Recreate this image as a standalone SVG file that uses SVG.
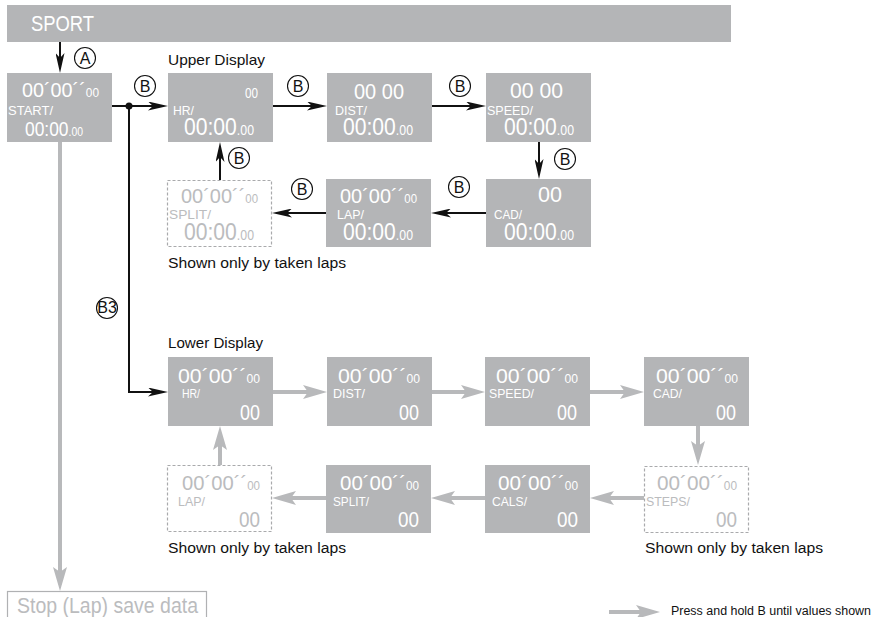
<svg xmlns="http://www.w3.org/2000/svg" width="877" height="617" viewBox="0 0 877 617">
<style>
text{font-family:"Liberation Sans Narrow","Liberation Sans",Arial,sans-serif;}
.box{fill:#b4b5b7;}
.dbox{fill:#fff;stroke:#a9aaac;stroke-width:1.2;stroke-dasharray:3,2;}
.w{fill:#fff;}
.g{fill:#bbbcbe;}
.k{fill:#111;}
.big{font-size:22px;}
.mid{font-size:21px;}
.t{font-size:24px;}
.s{font-size:14px;}
.s12{font-size:12px;}
.sm{font-size:14px;}
.lb{font-size:13px;}
.bl{stroke:#111;stroke-width:2;fill:none;}
.gl{stroke:#b8b9bb;stroke-width:4;fill:none;}
.circ{fill:#fff;stroke:#111;stroke-width:1.1;}
.ct{font-size:16px;fill:#111;text-anchor:middle;}
</style>
<defs>
<marker id="ah" markerUnits="userSpaceOnUse" markerWidth="20" markerHeight="9" refX="14" refY="4.5" orient="auto">
<path d="M0,0 L20,4.5 L0,9 L5,4.5 Z" fill="#111"/>
</marker>
<marker id="gh" markerUnits="userSpaceOnUse" markerWidth="24" markerHeight="14" refX="14" refY="7" orient="auto">
<path d="M0,0 L24,7 L0,14 L5,7 Z" fill="#b8b9bb"/>
</marker>
</defs>

<g id="sport">
<rect x="7" y="5" width="724" height="37" class="box"/>
<text x="31" y="31" class="w" font-size="22" textLength="63" lengthAdjust="spacingAndGlyphs">SPORT</text>
</g>

<text x="168" y="65" class="k" font-size="15" textLength="97" lengthAdjust="spacingAndGlyphs">Upper Display</text>
<text x="168" y="348" class="k" font-size="15" textLength="95" lengthAdjust="spacingAndGlyphs">Lower Display</text>
<text x="168" y="268" class="k" font-size="14" textLength="178" lengthAdjust="spacingAndGlyphs">Shown only by taken laps</text>
<text x="168" y="553" class="k" font-size="14" textLength="178" lengthAdjust="spacingAndGlyphs">Shown only by taken laps</text>
<text x="645" y="553" class="k" font-size="14" textLength="178" lengthAdjust="spacingAndGlyphs">Shown only by taken laps</text>

<!-- START -->
<g id="start">
<rect x="7" y="73" width="105" height="69" class="box"/>
<text x="22" y="97" class="w" font-size="20" textLength="77" lengthAdjust="spacingAndGlyphs">00´00´´<tspan class="s12">00</tspan></text>
<text x="8" y="115" class="w lb" textLength="45" lengthAdjust="spacingAndGlyphs">START/</text>
<text x="25" y="136" class="w" font-size="20" textLength="58" lengthAdjust="spacingAndGlyphs">00:00<tspan class="s12">.00</tspan></text>
</g>

<!-- Upper row 1 -->
<g id="u-hr">
<rect x="168" y="73" width="105" height="69" class="box"/>
<text x="245" y="98" class="w sm" textLength="13" lengthAdjust="spacingAndGlyphs">00</text>
<text x="173" y="115" class="w lb" textLength="21" lengthAdjust="spacingAndGlyphs">HR/</text>
<text x="184" y="135" class="w t" textLength="70" lengthAdjust="spacingAndGlyphs">00:00<tspan class="s">.00</tspan></text>
</g>
<g id="u-dist">
<rect x="327" y="73" width="105" height="69" class="box"/>
<text x="354" y="99" class="w big" textLength="50" lengthAdjust="spacingAndGlyphs">00 00</text>
<text x="335" y="115" class="w lb" textLength="32" lengthAdjust="spacingAndGlyphs">DIST/</text>
<text x="343" y="135" class="w t" textLength="70" lengthAdjust="spacingAndGlyphs">00:00<tspan class="s">.00</tspan></text>
</g>
<g id="u-speed">
<rect x="486" y="73" width="105" height="69" class="box"/>
<text x="510" y="98" class="w big" textLength="53" lengthAdjust="spacingAndGlyphs">00 00</text>
<text x="487" y="115" class="w lb" textLength="46" lengthAdjust="spacingAndGlyphs">SPEED/</text>
<text x="504" y="135" class="w t" textLength="70" lengthAdjust="spacingAndGlyphs">00:00<tspan class="s">.00</tspan></text>
</g>
<!-- Upper row 2 -->
<g id="u-cad">
<rect x="486" y="179" width="105" height="68" class="box"/>
<text x="538" y="202" class="w big" textLength="24" lengthAdjust="spacingAndGlyphs">00</text>
<text x="494" y="219" class="w lb" textLength="28" lengthAdjust="spacingAndGlyphs">CAD/</text>
<text x="504" y="240" class="w t" textLength="70" lengthAdjust="spacingAndGlyphs">00:00<tspan class="s">.00</tspan></text>
</g>
<g id="u-lap">
<rect x="326" y="179" width="105" height="68" class="box"/>
<text x="340" y="203" class="w mid" textLength="77" lengthAdjust="spacingAndGlyphs">00´00´´<tspan class="s12">00</tspan></text>
<text x="337" y="219" class="w lb" textLength="27" lengthAdjust="spacingAndGlyphs">LAP/</text>
<text x="343" y="240" class="w t" textLength="70" lengthAdjust="spacingAndGlyphs">00:00<tspan class="s">.00</tspan></text>
</g>
<g id="u-split">
<rect x="167.5" y="180.5" width="104" height="66" class="dbox"/>
<text x="181" y="203" class="g mid" textLength="77" lengthAdjust="spacingAndGlyphs">00´00´´<tspan class="s12">00</tspan></text>
<text x="169" y="219" class="g lb" textLength="42" lengthAdjust="spacingAndGlyphs">SPLIT/</text>
<text x="184" y="240" class="g t" textLength="70" lengthAdjust="spacingAndGlyphs">00:00<tspan class="s">.00</tspan></text>
</g>

<!-- Lower row 1 -->
<g id="l-hr">
<rect x="168" y="357" width="105" height="69" class="box"/>
<text x="178" y="383" class="w mid" textLength="82" lengthAdjust="spacingAndGlyphs">00´00´´<tspan class="s12">00</tspan></text>
<text x="182" y="398" class="w lb" textLength="18" lengthAdjust="spacingAndGlyphs">HR/</text>
<text x="240" y="420" class="w big" textLength="20" lengthAdjust="spacingAndGlyphs">00</text>
</g>
<g id="l-dist">
<rect x="327" y="357" width="105" height="69" class="box"/>
<text x="338" y="383" class="w mid" textLength="82" lengthAdjust="spacingAndGlyphs">00´00´´<tspan class="s12">00</tspan></text>
<text x="333" y="398" class="w lb" textLength="32" lengthAdjust="spacingAndGlyphs">DIST/</text>
<text x="399" y="420" class="w big" textLength="20" lengthAdjust="spacingAndGlyphs">00</text>
</g>
<g id="l-speed">
<rect x="485" y="357" width="105" height="69" class="box"/>
<text x="496" y="383" class="w mid" textLength="82" lengthAdjust="spacingAndGlyphs">00´00´´<tspan class="s12">00</tspan></text>
<text x="489" y="398" class="w lb" textLength="45" lengthAdjust="spacingAndGlyphs">SPEED/</text>
<text x="557" y="420" class="w big" textLength="20" lengthAdjust="spacingAndGlyphs">00</text>
</g>
<g id="l-cad">
<rect x="644" y="357" width="105" height="69" class="box"/>
<text x="656" y="383" class="w mid" textLength="82" lengthAdjust="spacingAndGlyphs">00´00´´<tspan class="s12">00</tspan></text>
<text x="653" y="398" class="w lb" textLength="29" lengthAdjust="spacingAndGlyphs">CAD/</text>
<text x="716" y="420" class="w big" textLength="20" lengthAdjust="spacingAndGlyphs">00</text>
</g>
<!-- Lower row 2 -->
<g id="l-steps">
<rect x="644.5" y="466.5" width="104" height="66" class="dbox"/>
<text x="657" y="490" class="g mid" textLength="80" lengthAdjust="spacingAndGlyphs">00´00´´<tspan class="s12">00</tspan></text>
<text x="646" y="506" class="g lb" textLength="44" lengthAdjust="spacingAndGlyphs">STEPS/</text>
<text x="716" y="527" class="g big" textLength="21" lengthAdjust="spacingAndGlyphs">00</text>
</g>
<g id="l-cals">
<rect x="485" y="465" width="105" height="68" class="box"/>
<text x="498" y="490" class="w mid" textLength="80" lengthAdjust="spacingAndGlyphs">00´00´´<tspan class="s12">00</tspan></text>
<text x="492" y="506" class="w lb" textLength="35" lengthAdjust="spacingAndGlyphs">CALS/</text>
<text x="557" y="527" class="w big" textLength="21" lengthAdjust="spacingAndGlyphs">00</text>
</g>
<g id="l-split">
<rect x="326" y="465" width="105" height="68" class="box"/>
<text x="340" y="490" class="w mid" textLength="79" lengthAdjust="spacingAndGlyphs">00´00´´<tspan class="s12">00</tspan></text>
<text x="333" y="506" class="w lb" textLength="36" lengthAdjust="spacingAndGlyphs">SPLIT/</text>
<text x="398" y="527" class="w big" textLength="21" lengthAdjust="spacingAndGlyphs">00</text>
</g>
<g id="l-lap">
<rect x="167.5" y="465.5" width="104" height="66" class="dbox"/>
<text x="182" y="490" class="g mid" textLength="78" lengthAdjust="spacingAndGlyphs">00´00´´<tspan class="s12">00</tspan></text>
<text x="178" y="506" class="g lb" textLength="27" lengthAdjust="spacingAndGlyphs">LAP/</text>
<text x="239" y="527" class="g big" textLength="21" lengthAdjust="spacingAndGlyphs">00</text>
</g>

<g id="stop">
<rect x="7.5" y="591.5" width="199" height="30" fill="#fff" stroke="#b0b1b3" stroke-width="1.2"/>
<text x="17" y="613" class="g" font-size="22" textLength="181" lengthAdjust="spacingAndGlyphs">Stop (Lap) save data</text>
</g>

<g id="connectors">
<!-- black -->
<path d="M60,42 V67" class="bl" marker-end="url(#ah)"/>
<path d="M112,106 H162" class="bl" marker-end="url(#ah)"/>
<circle cx="129" cy="106" r="3.5" fill="#111"/>
<path d="M129,106 V392 H162" class="bl" marker-end="url(#ah)"/>
<path d="M273,106 H321" class="bl" marker-end="url(#ah)"/>
<path d="M432,106 H480" class="bl" marker-end="url(#ah)"/>
<path d="M539,142 V173" class="bl" marker-end="url(#ah)"/>
<path d="M486,213 H437" class="bl" marker-end="url(#ah)"/>
<path d="M326,213 H278" class="bl" marker-end="url(#ah)"/>
<path d="M220,180 V148" class="bl" marker-end="url(#ah)"/>
<!-- gray -->
<path d="M60,142 V581" class="gl" stroke-width="3" marker-end="url(#gh)"/>
<path d="M273,392 H317" class="gl" marker-end="url(#gh)"/>
<path d="M432,392 H475" class="gl" marker-end="url(#gh)"/>
<path d="M590,392 H634" class="gl" marker-end="url(#gh)"/>
<path d="M698,426 V455" class="gl" marker-end="url(#gh)"/>
<path d="M644,498 H600" class="gl" marker-end="url(#gh)"/>
<path d="M485,498 H441" class="gl" marker-end="url(#gh)"/>
<path d="M326,498 H282" class="gl" marker-end="url(#gh)"/>
<path d="M220,465 V436" class="gl" marker-end="url(#gh)"/>
<path d="M609,612 H650" class="gl" marker-end="url(#gh)"/>
<!-- circle labels -->
<circle cx="85" cy="58" r="10.5" class="circ"/><text x="85" y="64" class="ct">A</text>
<circle cx="145" cy="86" r="10.5" class="circ"/><text x="145" y="92" class="ct">B</text>
<circle cx="298" cy="86" r="10.5" class="circ"/><text x="298" y="92" class="ct">B</text>
<circle cx="460" cy="86" r="10.5" class="circ"/><text x="460" y="92" class="ct">B</text>
<circle cx="565" cy="159" r="10.5" class="circ"/><text x="565" y="165" class="ct">B</text>
<circle cx="459" cy="187" r="10.5" class="circ"/><text x="459" y="193" class="ct">B</text>
<circle cx="302" cy="189" r="10.5" class="circ"/><text x="302" y="195" class="ct">B</text>
<circle cx="239" cy="158" r="10.5" class="circ"/><text x="239" y="164" class="ct">B</text>
<circle cx="107" cy="308" r="10.5" class="circ"/><text x="107" y="313" class="ct" font-size="14">B3</text>
</g>

<text x="671" y="615" class="k" font-size="12" textLength="200" lengthAdjust="spacingAndGlyphs">Press and hold B until values shown</text>
</svg>
